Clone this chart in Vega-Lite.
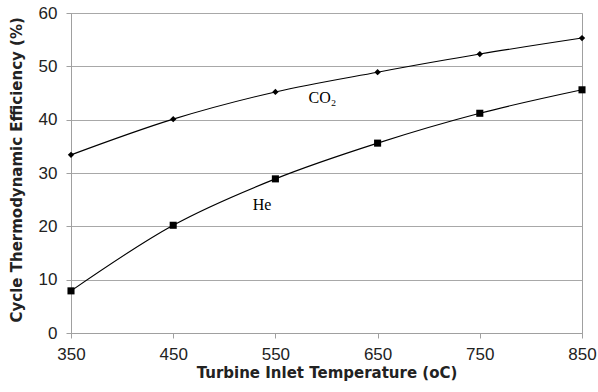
{
  "$schema": "https://vega.github.io/schema/vega-lite/v6.json",
  "width": 511,
  "height": 320,
  "autosize": {"type": "none"},
  "padding": {"left": 71, "top": 13, "right": 16, "bottom": 59},
  "background": "white",
  "config": {
    "view": {"stroke": "#a0a0a0", "strokeWidth": 1},
    "axis": {
      "labelFont": "Liberation Sans",
      "labelFontSize": 17,
      "labelColor": "#222222",
      "titleFont": "DejaVu Sans",
      "titleFontWeight": "bold",
      "titleColor": "#222222",
      "domainColor": "#a0a0a0",
      "tickColor": "#a0a0a0",
      "gridColor": "#a8a8a8"
    }
  },
  "datasets": {
    "series": [
      {"temp": 350, "eff": 33.4, "gas": "CO2"},
      {"temp": 450, "eff": 40.1, "gas": "CO2"},
      {"temp": 550, "eff": 45.2, "gas": "CO2"},
      {"temp": 650, "eff": 48.9, "gas": "CO2"},
      {"temp": 750, "eff": 52.3, "gas": "CO2"},
      {"temp": 850, "eff": 55.3, "gas": "CO2"},
      {"temp": 350, "eff": 7.9, "gas": "He"},
      {"temp": 450, "eff": 20.2, "gas": "He"},
      {"temp": 550, "eff": 28.9, "gas": "He"},
      {"temp": 650, "eff": 35.6, "gas": "He"},
      {"temp": 750, "eff": 41.2, "gas": "He"},
      {"temp": 850, "eff": 45.6, "gas": "He"}
    ],
    "labels": [
      {"temp": 596, "eff": 44.1, "text": "CO₂"},
      {"temp": 537, "eff": 24.0, "text": "He"}
    ]
  },
  "encoding": {
    "x": {
      "field": "temp",
      "type": "quantitative",
      "scale": {"domain": [350, 850], "nice": false, "zero": false},
      "axis": {
        "values": [350, 450, 550, 650, 750, 850],
        "title": "Turbine Inlet Temperature (oC)",
        "titleFontSize": 15,
        "titlePadding": 3,
        "labelPadding": 8,
        "labelFlush": false,
        "tickSize": 5,
        "grid": false
      }
    },
    "y": {
      "field": "eff",
      "type": "quantitative",
      "scale": {"domain": [0, 60], "nice": false},
      "axis": {
        "values": [0, 10, 20, 30, 40, 50, 60],
        "title": "Cycle Thermodynamic Efficiency (%)",
        "titleFontSize": 15,
        "titleAnchor": "start",
        "titleY": 309,
        "titlePadding": 14,
        "labelPadding": 9,
        "labelFlush": false,
        "tickSize": 5,
        "grid": true
      }
    }
  },
  "layer": [
    {
      "data": {"name": "series"},
      "mark": {"type": "line", "interpolate": "monotone", "color": "black", "strokeWidth": 1.1},
      "encoding": {"detail": {"field": "gas"}}
    },
    {
      "data": {"name": "series"},
      "mark": {"type": "point", "filled": true, "color": "black", "opacity": 1},
      "encoding": {
        "shape": {"field": "gas", "type": "nominal", "scale": {"domain": ["CO2", "He"], "range": ["diamond", "square"]}, "legend": null},
        "size": {"field": "gas", "type": "nominal", "scale": {"domain": ["CO2", "He"], "range": [40, 50]}, "legend": null}
      }
    },
    {
      "data": {"name": "labels"},
      "mark": {"type": "text", "font": "Liberation Serif", "fontSize": 16, "color": "black"},
      "encoding": {"text": {"field": "text"}}
    }
  ]
}
